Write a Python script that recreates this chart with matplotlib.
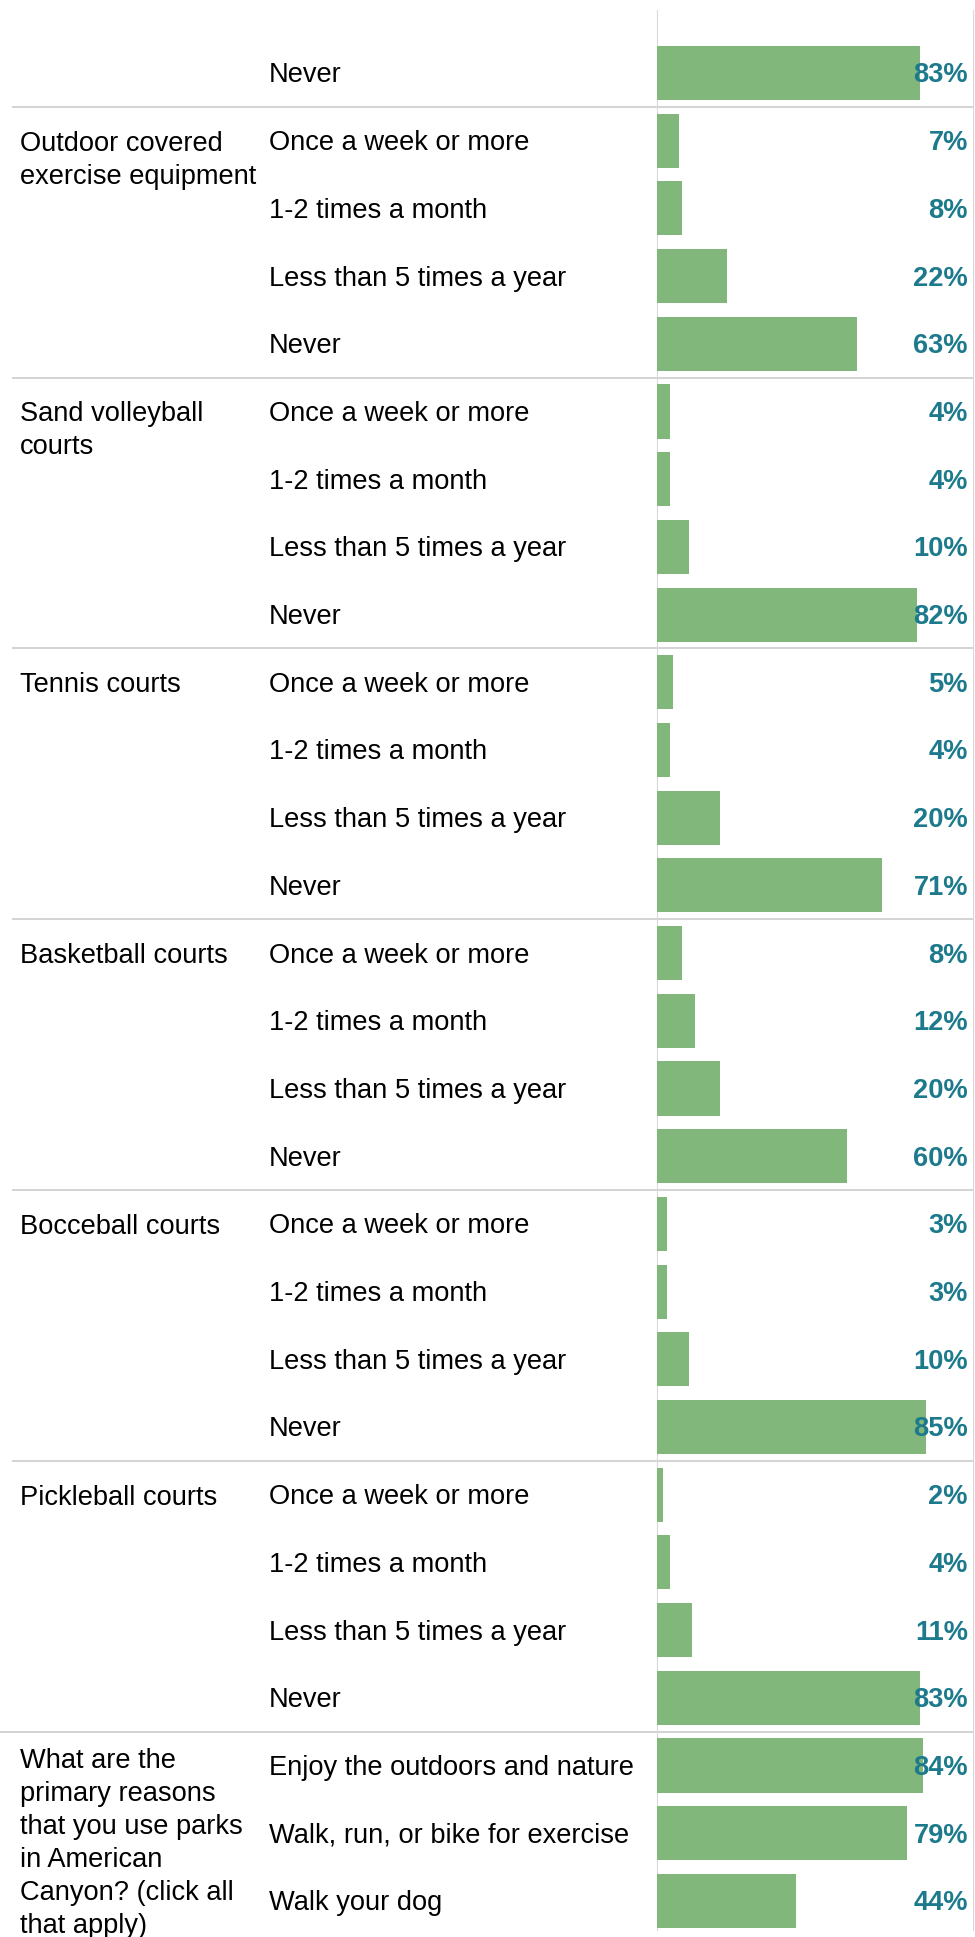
import matplotlib
matplotlib.use("Agg")
import matplotlib.pyplot as plt

plt.rcParams['font.family'] = ['Liberation Sans', 'DejaVu Sans']

# --- data ---
freq_labels = ["Once a week or more", "1-2 times a month",
               "Less than 5 times a year", "Never"]
facilities = ["Outdoor covered\nexercise equipment", "Sand volleyball\ncourts",
              "Tennis courts", "Basketball courts", "Bocceball courts",
              "Pickleball courts"]
facility_values = [
    [7, 8, 22, 63],
    [4, 4, 10, 82],
    [5, 4, 20, 71],
    [8, 12, 20, 60],
    [3, 3, 10, 85],
    [2, 4, 11, 83],
]
prev_label = "Never"   # tail of the group above (its name is scrolled off)
prev_value = 83
question = ("What are the\nprimary reasons\nthat you use parks\nin American\n"
            "Canyon? (click all\nthat apply)")
reasons = ["Enjoy the outdoors and nature", "Walk, run, or bike for exercise",
           "Walk your dog"]
reason_values = [84, 79, 44]

# --- flatten into rows ---
sub_labels = [prev_label]
values = [prev_value]
groups = []  # (label, first row, n rows, full-width separator)
for name, vals in zip(facilities, facility_values):
    groups.append((name, len(values), len(vals), False))
    sub_labels += freq_labels
    values += vals
groups.append((question, len(values), len(reasons), True))
sub_labels += reasons
values += reason_values
rows = list(range(len(values)))

W, H = 975, 1937
pitch = 67.7
row0 = 73
ylim = ((H - row0) / pitch, -row0 / pitch)

bar_color = '#82b77b'
val_color = '#1c7a8c'
grid_color = '#d3d3d3'
fs = 19.6
base_off = 0.14

fig = plt.figure(figsize=(W / 100, H / 100), dpi=100)
bg = fig.add_axes([0, 0, 1, 1])
bg.set_xlim(0, W)
bg.set_ylim(*ylim)
bg.axis('off')

ax = fig.add_axes([657 / W, 0, 317 / W, 1])
ax.set_xlim(0, 100)
ax.set_ylim(*ylim)
ax.axis('off')
ax.patch.set_alpha(0)

ax.barh(rows, values, height=0.8, color=bar_color, zorder=2)
tr = ax.get_yaxis_transform()
for r, v in zip(rows, values):
    ax.text(0.981, r + base_off, f"{v}%", transform=tr, ha='right',
            va='baseline', fontsize=fs, fontweight='bold', color=val_color,
            zorder=3)

for r, lab in zip(rows, sub_labels):
    bg.text(269, r + base_off, lab, ha='left', va='baseline', fontsize=fs,
            color='black')

for name, first, n, full in groups:
    off = -0.26 if full else -0.15
    bg.text(20, first + off, name, ha='left', va='top', fontsize=fs,
            color='black', linespacing=1.35)
    bg.plot([0 if full else 12, 973], [first - 0.5, first - 0.5],
            color=grid_color, lw=1.4, solid_capstyle='butt')

# vertical rules
top = (10 - row0) / pitch
bottom = (1930 - row0) / pitch
for x in (657, 973):
    bg.plot([x, x], [top, bottom], color='#d9d9d9', lw=0.8)

fig.savefig("out.png", dpi=100)
